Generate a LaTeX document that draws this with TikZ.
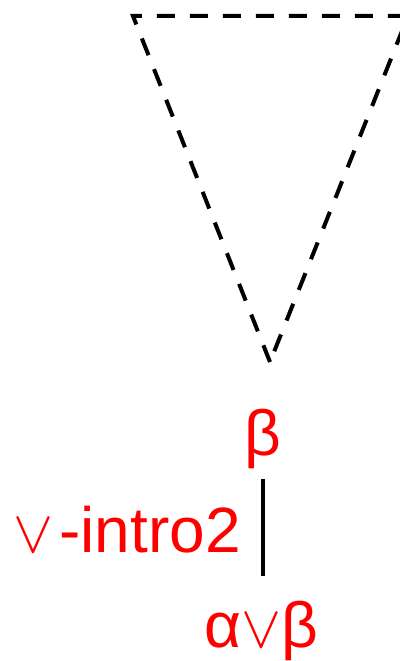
\documentclass[tikz,border=0pt]{standalone}
\usepackage{graphicx}
\usepackage{fontspec}
\setmainfont{Liberation Sans}
\newcommand{\orsym}{\scalebox{6.0}{\fontsize{10}{12}\selectfont$\vee$}}
\begin{document}
\begin{tikzpicture}[x=1pt,y=-1pt,
  tri/.style={draw=black,line width=4pt,dash pattern=on 18pt off 15pt},
  formula/.style={text=red,font=\fontsize{64}{70}\selectfont,inner sep=0pt,anchor=base},
  rulelabel/.style={text=red,font=\fontsize{64}{70}\selectfont,inner sep=0pt,anchor=base east},
  ruleline/.style={draw=black,line width=4pt}]
\useasboundingbox (0,0) rectangle (399,661);
\coordinate (apex) at (270,362);
\coordinate (tl) at (133,16);
\coordinate (tr) at (408,16);
\draw[tri] (apex) -- (tl) -- (tr) -- cycle;
\node[formula] (beta) at (263,455) {β};
\node[formula] (concl) at (261,647) {α\orsym β};
\coordinate (ltop) at (263,479);
\coordinate (lbot) at (263,576);
\draw[ruleline] (ltop) -- (lbot);
\node[rulelabel] (lab) at (241,552) {\orsym\kern6pt-intro2};
\end{tikzpicture}
\end{document}
